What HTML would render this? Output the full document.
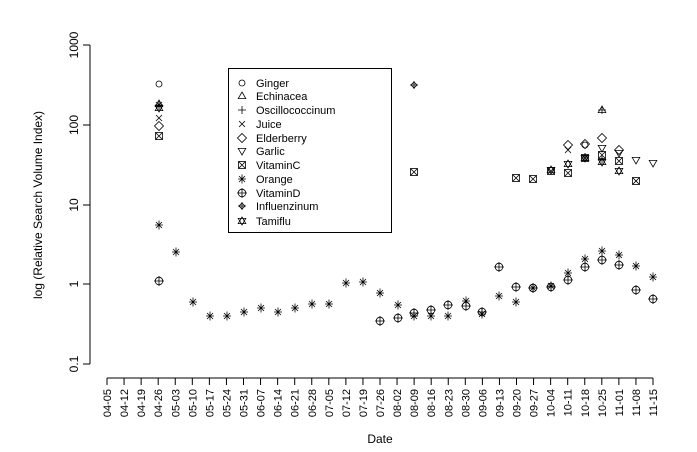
<!DOCTYPE html>
<html><head><meta charset="utf-8"><style>
html,body{margin:0;padding:0;background:#fff}
svg{display:block;font-family:"Liberation Sans",Arial,sans-serif}
</style></head><body>
<svg width="697" height="452" viewBox="0 0 697 452" xmlns="http://www.w3.org/2000/svg">
<defs>
<g id="ci"><circle r="3" fill="none" stroke="#000" stroke-width="0.8"/></g>
<g id="tr"><path d="M0,-4 L3.8,2.6 L-3.8,2.6 Z" fill="none" stroke="#000" stroke-width="0.8"/></g>
<g id="pl"><path d="M-4,0 H4 M0,-4 V4" stroke="#000" stroke-width="0.8"/></g>
<g id="xx"><path d="M-3,-3 L3,3 M-3,3 L3,-3" stroke="#000" stroke-width="0.8"/></g>
<g id="di"><path d="M0,-4.5 L4.5,0 L0,4.5 L-4.5,0 Z" fill="none" stroke="#000" stroke-width="0.8"/></g>
<g id="ga"><path d="M0,4 L3.8,-2.6 L-3.8,-2.6 Z" fill="none" stroke="#000" stroke-width="0.8"/></g>
<g id="vc"><rect x="-3.5" y="-3.5" width="7" height="7" fill="none" stroke="#000" stroke-width="0.8"/><path d="M-3.5,-3.5 L3.5,3.5 M-3.5,3.5 L3.5,-3.5" stroke="#000" stroke-width="0.8"/></g>
<g id="st"><path d="M-4,0 H4 M0,-4.5 V4.5 M-3,-3 L3,3 M-3,3 L3,-3" stroke="#000" stroke-width="0.8"/></g>
<g id="vd"><circle r="3.8" fill="none" stroke="#000" stroke-width="0.8"/><path d="M-5,0 H5 M0,-5 V5" stroke="#000" stroke-width="0.8"/></g>
<g id="in"><path d="M0,-3 L3,0 L0,3 L-3,0 Z" fill="none" stroke="#000" stroke-width="0.8"/><path d="M-4,0 H4 M0,-4 V4" stroke="#000" stroke-width="0.8"/></g>
<g id="ta"><path d="M0,-4 L3.8,2.6 L-3.8,2.6 Z M0,4 L3.8,-2.6 L-3.8,-2.6 Z" fill="none" stroke="#000" stroke-width="0.8"/></g>
</defs>
<g stroke="#000" stroke-width="1" fill="none">
<path d="M90,45 V364 M90,45 H83 M90,125 H83 M90,205 H83 M90,284 H83 M90,364 H83"/>
<path d="M107,378 H653"/>
<path d="M107,378v7M124.06,378v7M141.13,378v7M158.19,378v7M175.25,378v7M192.31,378v7M209.38,378v7M226.44,378v7M243.5,378v7M260.56,378v7M277.63,378v7M294.69,378v7M311.75,378v7M328.81,378v7M345.88,378v7M362.94,378v7M380,378v7M397.06,378v7M414.13,378v7M431.19,378v7M448.25,378v7M465.31,378v7M482.38,378v7M499.44,378v7M516.5,378v7M533.56,378v7M550.63,378v7M567.69,378v7M584.75,378v7M601.81,378v7M618.88,378v7M635.94,378v7M653,378v7"/>
<rect x="228.5" y="68.5" width="163" height="164"/>
</g>
<g font-size="12" fill="#000" text-anchor="middle">
<text transform="translate(78,45) rotate(-90)">1000</text>
<text transform="translate(78,125) rotate(-90)">100</text>
<text transform="translate(78,205) rotate(-90)">10</text>
<text transform="translate(78,284) rotate(-90)">1</text>
<text transform="translate(78,364) rotate(-90)">0.1</text>
<text transform="translate(42,205) rotate(-90)">log (Relative Search Volume Index)</text>
<text x="380" y="443">Date</text>
</g>
<g font-size="11" fill="#000" text-anchor="end">
<text transform="translate(111,389) rotate(-90)">04-05</text>
<text transform="translate(128.06,389) rotate(-90)">04-12</text>
<text transform="translate(145.13,389) rotate(-90)">04-19</text>
<text transform="translate(162.19,389) rotate(-90)">04-26</text>
<text transform="translate(179.25,389) rotate(-90)">05-03</text>
<text transform="translate(196.31,389) rotate(-90)">05-10</text>
<text transform="translate(213.38,389) rotate(-90)">05-17</text>
<text transform="translate(230.44,389) rotate(-90)">05-24</text>
<text transform="translate(247.5,389) rotate(-90)">05-31</text>
<text transform="translate(264.56,389) rotate(-90)">06-07</text>
<text transform="translate(281.63,389) rotate(-90)">06-14</text>
<text transform="translate(298.69,389) rotate(-90)">06-21</text>
<text transform="translate(315.75,389) rotate(-90)">06-28</text>
<text transform="translate(332.81,389) rotate(-90)">07-05</text>
<text transform="translate(349.88,389) rotate(-90)">07-12</text>
<text transform="translate(366.94,389) rotate(-90)">07-19</text>
<text transform="translate(384,389) rotate(-90)">07-26</text>
<text transform="translate(401.06,389) rotate(-90)">08-02</text>
<text transform="translate(418.13,389) rotate(-90)">08-09</text>
<text transform="translate(435.19,389) rotate(-90)">08-16</text>
<text transform="translate(452.25,389) rotate(-90)">08-23</text>
<text transform="translate(469.31,389) rotate(-90)">08-30</text>
<text transform="translate(486.38,389) rotate(-90)">09-06</text>
<text transform="translate(503.44,389) rotate(-90)">09-13</text>
<text transform="translate(520.5,389) rotate(-90)">09-20</text>
<text transform="translate(537.56,389) rotate(-90)">09-27</text>
<text transform="translate(554.63,389) rotate(-90)">10-04</text>
<text transform="translate(571.69,389) rotate(-90)">10-11</text>
<text transform="translate(588.75,389) rotate(-90)">10-18</text>
<text transform="translate(605.81,389) rotate(-90)">10-25</text>
<text transform="translate(622.88,389) rotate(-90)">11-01</text>
<text transform="translate(639.94,389) rotate(-90)">11-08</text>
<text transform="translate(657,389) rotate(-90)">11-15</text>
</g>
<g>
<use href="#ci" x="242" y="83"/><use href="#tr" x="242" y="96"/><use href="#pl" x="242" y="110"/>
<use href="#xx" x="242" y="124"/><use href="#di" x="242" y="138"/><use href="#ga" x="242" y="151"/>
<use href="#vc" x="242" y="165"/><use href="#st" x="242" y="179"/><use href="#vd" x="242" y="193"/>
<use href="#in" x="242" y="206"/><use href="#ta" x="242" y="221"/>
</g>
<g font-size="11" fill="#000">
<text x="256" y="87">Ginger</text><text x="256" y="100">Echinacea</text><text x="256" y="114">Oscillococcinum</text>
<text x="256" y="128">Juice</text><text x="256" y="142">Elderberry</text><text x="256" y="155">Garlic</text>
<text x="256" y="169">VitaminC</text><text x="256" y="183">Orange</text><text x="256" y="197">VitaminD</text>
<text x="256" y="210">Influenzinum</text><text x="256" y="225">Tamiflu</text>
</g>
<g>
<use href="#ci" x="159" y="84"/><use href="#tr" x="159" y="104"/><use href="#pl" x="159" y="106"/>
<use href="#st" x="159" y="105"/><use href="#ta" x="159" y="108"/><use href="#xx" x="159" y="118"/>
<use href="#di" x="159" y="126"/><use href="#vc" x="159" y="136"/>
<use href="#st" x="159" y="225"/><use href="#vd" x="159" y="281"/>
<use href="#st" x="176" y="252"/><use href="#st" x="193" y="302"/><use href="#st" x="210" y="316"/>
<use href="#st" x="227" y="316"/><use href="#st" x="244" y="312"/><use href="#st" x="261" y="308"/>
<use href="#st" x="278" y="312"/><use href="#st" x="295" y="308"/><use href="#st" x="312" y="304"/>
<use href="#st" x="329" y="304"/><use href="#st" x="346" y="283"/><use href="#st" x="363" y="282"/>
<use href="#st" x="380" y="293"/><use href="#vd" x="380" y="321"/>
<use href="#st" x="398" y="305"/><use href="#vd" x="398" y="318"/>
<use href="#st" x="414" y="316"/><use href="#vd" x="414" y="313"/><use href="#in" x="414" y="85"/><use href="#vc" x="414" y="172"/>
<use href="#st" x="431" y="316"/><use href="#vd" x="431" y="310"/>
<use href="#st" x="448" y="316"/><use href="#vd" x="448" y="305"/>
<use href="#st" x="466" y="301"/><use href="#vd" x="466" y="306"/>
<use href="#st" x="482" y="314"/><use href="#vd" x="482" y="312"/>
<use href="#st" x="499" y="296"/><use href="#vd" x="499" y="267"/>
<use href="#st" x="516" y="302"/><use href="#vd" x="516" y="287"/><use href="#vc" x="516" y="178"/>
<use href="#st" x="533" y="288"/><use href="#vd" x="533" y="288"/><use href="#vc" x="533" y="179"/>
<use href="#st" x="551" y="286"/><use href="#vd" x="551" y="287"/><use href="#vc" x="551" y="171"/><use href="#ta" x="551" y="170"/>
<use href="#st" x="568" y="273"/><use href="#vd" x="568" y="280"/><use href="#di" x="568" y="145"/><use href="#xx" x="568" y="150"/><use href="#ta" x="568" y="164"/><use href="#vc" x="568" y="173"/>
<use href="#st" x="585" y="259"/><use href="#vd" x="585" y="267"/><use href="#di" x="585" y="144"/><use href="#ci" x="585" y="145"/><use href="#ta" x="585" y="158"/><use href="#vc" x="585" y="158"/><use href="#pl" x="585" y="157"/>
<use href="#st" x="602" y="251"/><use href="#vd" x="602" y="260"/><use href="#tr" x="602" y="110"/><use href="#pl" x="602" y="110"/><use href="#di" x="602" y="138"/><use href="#ga" x="602" y="148"/><use href="#vc" x="602" y="155"/><use href="#ta" x="602" y="162"/><use href="#pl" x="602" y="160"/>
<use href="#st" x="619" y="255"/><use href="#vd" x="619" y="265"/><use href="#di" x="619" y="150"/><use href="#ga" x="619" y="153"/><use href="#vc" x="619" y="161"/><use href="#ta" x="619" y="171"/>
<use href="#st" x="636" y="266"/><use href="#vd" x="636" y="290"/><use href="#ga" x="636" y="160"/><use href="#vc" x="636" y="181"/>
<use href="#st" x="653" y="277"/><use href="#vd" x="653" y="299"/><use href="#ga" x="653" y="163"/>
</g>
</svg>
</body></html>
